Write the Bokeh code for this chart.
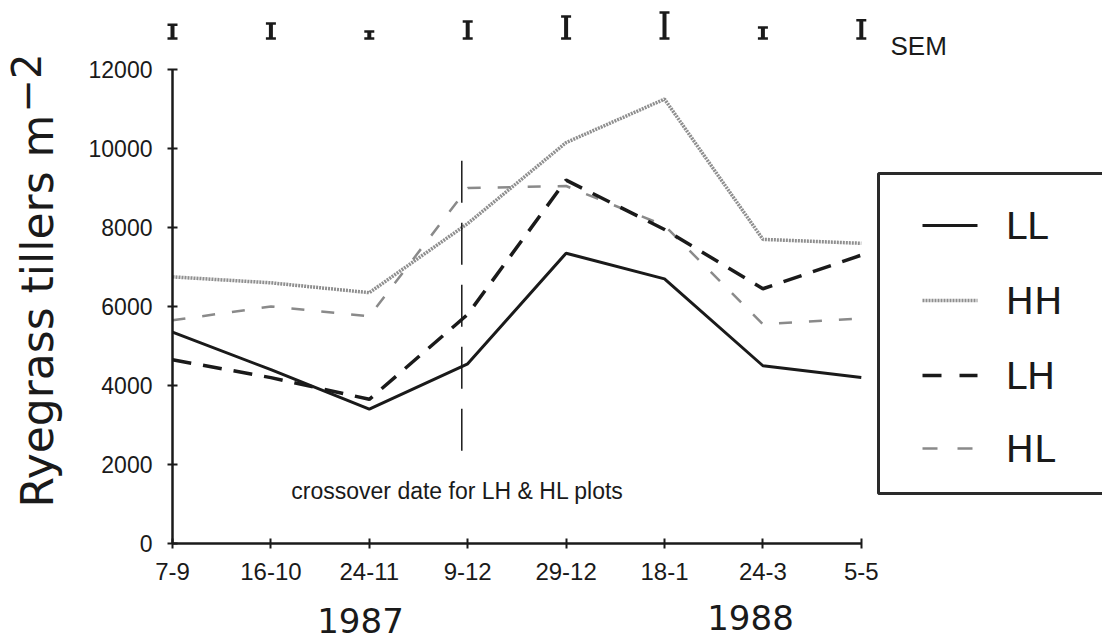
import math
from bokeh.plotting import figure
from bokeh.models import Range1d, FixedTicker, Label, LinearAxis
from bokeh.core.properties import value
from bokeh.embed import file_html
from bokeh.resources import INLINE

# ---------------- data ----------------
dates = ["7-9", "16-10", "24-11", "9-12", "29-12", "18-1", "24-3", "5-5"]
LL = [5350, 4400, 3400, 4550, 7350, 6700, 4500, 4200]
HH = [6750, 6600, 6350, 8100, 10150, 11250, 7700, 7600]
LH = [4650, 4200, 3650, 5800, 9200, 7950, 6450, 7300]
HL = [5650, 6000, 5750, 9000, 9050, 8050, 5550, 5700]
SEM = [350, 380, 180, 430, 560, 660, 280, 460]
y_ticks = [0, 2000, 4000, 6000, 8000, 10000, 12000]
series_names = ["LL", "HH", "LH", "HL"]
years = ["1987", "1988"]
crossover_range = [2350, 9700]
annotation = "crossover date for LH & HL plots"

# ---------------- geometry ----------------
W, H = 1102, 641
X0, DX = 172, 98.4          # pixel of x=0, pixels per category
Y0, DY = 543, 39.5          # pixel of y=0, pixels per 1000 tillers


def X(px):
    return (px - X0) / DX


def Y(py):
    return (Y0 - py) / DY * 1000.0


p = figure(width=W, height=H, output_backend="svg", toolbar_location=None,
           x_range=Range1d(X(0), X(W)), y_range=Range1d(Y(H), Y(0)),
           x_axis_location=None, y_axis_location=None,
           min_border_left=0, min_border_right=0, min_border_top=0,
           min_border_bottom=0)
p.outline_line_color = None
p.grid.grid_line_color = None
p.background_fill_color = "white"
p.border_fill_color = "white"

INK = "#1a1a1a"
HELV = "Liberation Sans"
GEO = "DejaVu Sans"

# axes (fixed inside the full-canvas frame)
ya = LinearAxis(fixed_location=0, bounds=(0, 12000),
                ticker=FixedTicker(ticks=y_ticks))
ya.axis_line_width = 2.5
ya.axis_line_color = INK
ya.major_tick_in = 5
ya.major_tick_out = 5
ya.major_tick_line_width = 2
ya.major_tick_line_color = INK
ya.minor_tick_line_color = None
ya.major_label_text_font = HELV
ya.major_label_text_font_size = "23px"
ya.major_label_text_color = INK
ya.major_label_standoff = 15
p.add_layout(ya, "left")

xa = LinearAxis(fixed_location=0, bounds=(0, len(dates) - 1),
                ticker=FixedTicker(ticks=list(range(len(dates)))))
xa.major_label_overrides = {i: d for i, d in enumerate(dates)}
xa.axis_line_width = 2.5
xa.axis_line_color = INK
xa.major_tick_in = 5
xa.major_tick_out = 5
xa.major_tick_line_width = 2
xa.major_tick_line_color = INK
xa.minor_tick_line_color = None
xa.major_label_text_font = HELV
xa.major_label_text_font_size = "24px"
xa.major_label_text_color = INK
xa.major_label_standoff = 14
p.add_layout(xa, "below")

xs = list(range(len(dates)))

# series
p.line(xs, HH, line_color="#8f8f8f", line_width=3.5, line_dash="2 1")
p.line(xs, HL, line_color="#8a8a8a", line_width=2.5, line_dash="13 17")
p.line(xs, LH, line_color=INK, line_width=3.5, line_dash="19 12")
p.line(xs, LL, line_color=INK, line_width=3)

# crossover vertical dashed line
p.line([3 - 0.06, 3 - 0.06], crossover_range, line_color=INK, line_width=1.5,
       line_dash="42 20")
p.add_layout(Label(x=X(457), y=Y(490), text=annotation, text_align="center",
                   text_baseline="middle", text_font=HELV,
                   text_font_size="23px", text_color=INK))

# SEM bars at the top
base = Y(38)
cap = 5 / DX
p.segment(xs, [base] * len(xs), xs, [base + s for s in SEM],
          line_color=INK, line_width=4)
p.segment([x - cap for x in xs], [base] * len(xs), [x + cap for x in xs],
          [base] * len(xs), line_color=INK, line_width=2.5)
p.segment([x - cap for x in xs], [base + s for s in SEM],
          [x + cap for x in xs], [base + s for s in SEM],
          line_color=INK, line_width=2.5)
p.add_layout(Label(x=X(890), y=Y(45), text="SEM", text_align="left",
                   text_baseline="alphabetic", text_font=HELV,
                   text_font_size="26px", text_color=INK))

# legend box
p.quad(left=[X(878)], right=[X(1120)], top=[Y(173)], bottom=[Y(493)],
       fill_color="white", line_color="#2a2a2a", line_width=3)
leg_y = [225, 300, 375, 448]
styles = [
    dict(line_color=INK, line_width=3),
    dict(line_color="#8f8f8f", line_width=3.5, line_dash="2 1"),
    dict(line_color=INK, line_width=3.5, line_dash="19 18"),
    dict(line_color="#8a8a8a", line_width=2.5, line_dash="15 20"),
]
for name, ly, st in zip(series_names, leg_y, styles):
    p.line([X(922), X(977)], [Y(ly), Y(ly)], **st)
    p.add_layout(Label(x=X(1005), y=Y(ly), text=name, text_align="left",
                       text_baseline="middle", text_font=GEO,
                       text_font_size="38px", text_color=INK))

# y axis title with superscript
p.add_layout(Label(x=X(37), y=Y(507), text="Ryegrass tillers m", angle=math.pi / 2,
                   text_align="left", text_baseline="alphabetic", text_font=GEO,
                   text_font_size="44px", text_color=INK))
p.add_layout(Label(x=X(25), y=Y(112), text="\u22122", angle=math.pi / 2,
                   text_align="left", text_baseline="alphabetic", text_font=GEO,
                   text_font_size="40px", text_color=INK))

# years
for yr, cx, cy in zip(years, [360, 750], [620, 617]):
    p.add_layout(Label(x=X(cx), y=Y(cy), text=yr, text_align="center",
                       text_baseline="middle", text_font=GEO,
                       text_font_size="34px", text_color=INK))

open("out.html", "w").write(file_html(p, INLINE))
